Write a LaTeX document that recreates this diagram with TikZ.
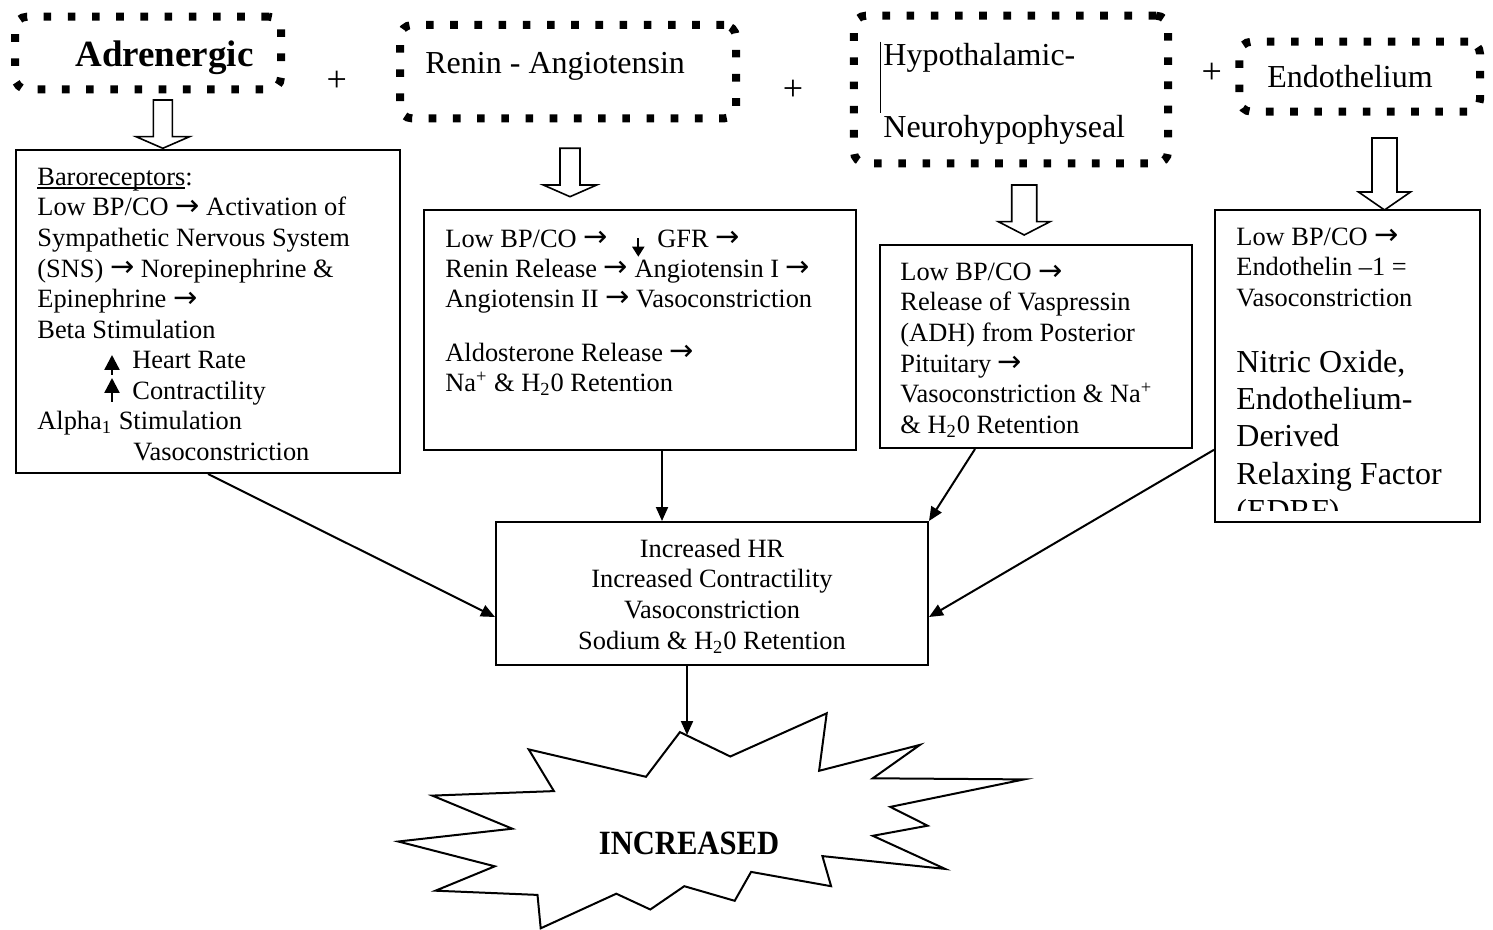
\documentclass[tikz,border=0pt]{standalone}
\usepackage{fontspec}
\usepackage{graphicx}
\setmainfont{Liberation Serif}
\newfontfamily\arrfont{DejaVu Sans}
\usetikzlibrary{arrows.meta,calc}
\newcommand\rarr{\raisebox{0.2pt}{\arrfont\fontsize{14.5}{14.5}\selectfont →}}
\newcommand\fl[1]{\rule{0pt}{#1}}
\newcommand\ulin[1]{\setbox0\hbox{#1}\rlap{\rule[-1.6pt]{\wd0}{0.6pt}}\box0}
\newcommand\blockarrow[6]{%
  \draw[blk] ({#1-#2},#4) -- ({#1+#2},#4) -- ({#1+#2},#5) -- ({#1+#3},#5) -- (#1,#6) -- ({#1-#3},#5) -- ({#1-#2},#5) -- cycle;}
\begin{document}
\begin{tikzpicture}[x=0.5pt,y=-0.5pt,
  dotbox/.style={draw, line width=4pt, dash pattern=on 3.8pt off 8.3pt, rounded corners=6pt, inner sep=0pt},
  solidbox/.style={draw, line width=1pt, inner sep=0pt},
  txt/.style={inner sep=0pt, anchor=north west, align=left, font=\fontsize{13.2}{15.28}\selectfont},
  toplbl/.style={inner sep=0pt, anchor=base west, font=\fontsize{16}{19}\selectfont},
  plus/.style={inner sep=0pt, font=\fontsize{18}{20}\selectfont},
  conn/.style={line width=1pt, -{Triangle[length=7pt,width=6pt]}},
  smallarr/.style={line width=1.2pt, -{Triangle[length=7.5pt,width=7.5pt]}},
  blk/.style={draw, line width=0.8pt, fill=white, line join=miter},
]
\useasboundingbox (0,0) rectangle (1493,930);

% dotted top boxes
\node[dotbox, minimum width=133pt, minimum height=36.3pt] (adrT) at (148,53) {};
\node[dotbox, minimum width=168pt, minimum height=46.7pt] (renT) at (568,71.7) {};
\node[dotbox, minimum width=157.2pt, minimum height=73.8pt] (hypT) at (1011,89.5) {};
\node[dotbox, minimum width=120.3pt, minimum height=35pt] (endT) at (1359.7,76.7) {};

\node[inner sep=0pt, anchor=base west, font=\fontsize{18.5}{22}\selectfont\bfseries] (adrL) at (75,66.7) {Adrenergic};
\node[toplbl] (renL) at (425,74) {Renin - Angiotensin};
\node[txt, font=\fontsize{16}{35.85}\selectfont] (hypL) at (883,41) {\fl{12pt}Hypothalamic-\\Neurohypophyseal};
\node[toplbl] (endL) at (1267,88) {Endothelium};
\draw[line width=0.5pt] (880,41.7) -- (880,113.3);

\node[plus] (plus1) at (336.7,81.7) {+};
\node[plus] (plus2) at (793,90) {+};
\node[plus] (plus3) at (1211.7,73.3) {+};

% block arrows
\blockarrow{162.8}{9.5}{26.7}{100}{136.7}{148.3}
\blockarrow{570}{10}{26.7}{148.3}{185}{196.7}
\blockarrow{1024.2}{12.5}{25.8}{185}{221.7}{235}
\blockarrow{1384.5}{12.5}{26}{138}{192}{210}

% solid boxes
\node[solidbox, minimum width=192pt, minimum height=161.5pt] (adr) at (208,311.5) {};
\node[solidbox, minimum width=216pt, minimum height=120pt] (ren) at (640,330) {};
\node[solidbox, minimum width=156pt, minimum height=101.5pt] (hyp) at (1036,346.5) {};
\node[solidbox, minimum width=132.5pt, minimum height=155.8pt] (endo) at (1347.5,365.8) {};
\node[solidbox, minimum width=216pt, minimum height=71.5pt] (mid) at (712,593.5) {};

% texts
\node[txt] (adrX) at (37,165) {\fl{10pt}\ulin{Baroreceptors}:\\
Low BP/CO \rarr{} Activation of\\
Sympathetic Nervous System\\
(SNS) \rarr{} Norepinephrine \&\\
Epinephrine \rarr\\
Beta Stimulation\\
\hspace*{47.5pt}Heart Rate\\
\hspace*{47.5pt}Contractility\\
Alpha\textsubscript{1} Stimulation\\
\hspace*{48pt}Vasoconstriction};
\draw[smallarr] (112,375) -- (112,355);
\draw[smallarr] (112,402) -- (112,378);

\node[txt, font=\fontsize{13.2}{15}\selectfont] (renX) at (445,226.7) {\fl{10pt}\makebox[106pt][l]{Low BP/CO \rarr}GFR \rarr\\
Renin Release \rarr{} Angiotensin I \rarr\\
Angiotensin II \rarr{} Vasoconstriction\\[12pt]
Aldosterone Release \rarr\\
Na\textsuperscript{+} \& H\textsubscript{2}0 Retention};
\draw[line width=1pt, -{Triangle[length=5pt,width=6pt]}] (638.3,238.3) -- (638.3,256.7);

\node[txt] (hypX) at (900,260) {\fl{10pt}Low BP/CO \rarr\\
Release of Vaspressin\\
(ADH) from Posterior\\
Pituitary \rarr\\
Vasoconstriction \& Na\textsuperscript{+}\\
\& H\textsubscript{2}0 Retention};

\node[txt] (endX) at (1236,225) {\fl{10pt}Low BP/CO \rarr\\
Endothelin –1 =\\
Vasoconstriction};
\begin{scope}
\clip (1216,210) rectangle (1480,510);
\node[txt, font=\fontsize{16}{18.65}\selectfont] (endY) at (1236,343.7) {\fl{14pt}Nitric Oxide,\\
Endothelium-\\
Derived\\
Relaxing Factor\\
(EDRF) –};
\end{scope}

\node[inner sep=0pt, anchor=north, align=center, font=\fontsize{13.2}{15.28}\selectfont] (midX) at (712,537) {\fl{10pt}Increased HR\\
Increased Contractility\\
Vasoconstriction\\
Sodium \& H\textsubscript{2}0 Retention};

% starburst
\draw[line width=1pt, line join=miter] (730.3,756.5) -- (826.7,713.3) -- (819.1,770.8) -- (919.9,744.9) -- (872.8,778.3) -- (1024.0,779.4) -- (890.3,806.9) -- (927.6,825.7) -- (872.8,835.8) -- (945.1,868.9) -- (822.4,856.1) -- (831.1,886.2) -- (751.1,871.9) -- (734.7,900.8) -- (684.3,886.2) -- (650.3,909.5) -- (616.3,893.7) -- (540.7,928.3) -- (537.5,894.9) -- (435.5,890.7) -- (494.8,866.3) -- (398.3,841.5) -- (512.3,828.7) -- (432.3,795.6) -- (553.9,791.1) -- (528.7,749.4) -- (646.0,776.8) -- (679.9,732.1) -- cycle;
\node[inner sep=0pt, font=\fontsize{17}{20}\selectfont\bfseries] (inc) at (689,843) {\scalebox{0.9}[1]{INCREASED}};
\coordinate (bursttip) at (687,735);

% connectors
\draw[conn] (adr.south) -- ([yshift=-11.75pt]mid.west);
\draw[conn] ([xshift=11pt]ren.south) -- ([xshift=11pt]ren.south |- mid.north);
\draw[conn] ([xshift=-30.5pt]hyp.south) -- (mid.north east);
\draw[conn] ([yshift=-42pt]endo.west) -- ([yshift=-11.75pt]mid.east);
\draw[conn] ([xshift=-12.5pt]mid.south) -- (bursttip);
\end{tikzpicture}
\end{document}
